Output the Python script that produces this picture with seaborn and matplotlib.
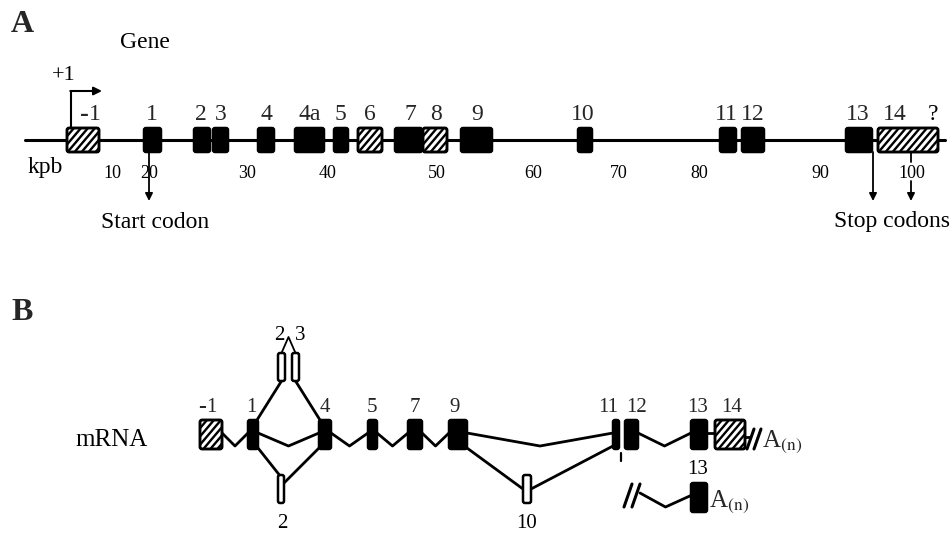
import matplotlib
matplotlib.use("Agg")
import numpy as np
import matplotlib.pyplot as plt
from matplotlib.patches import FancyBboxPatch
import seaborn as sns

sns.set_theme(style="white")
plt.rcParams["font.family"] = ["Liberation Serif", "DejaVu Serif"]
plt.rcParams["mathtext.fontset"] = "stix"

# ------------------------------------------------------------
# Panel A: gene structure (drawing units along the locus)
# ------------------------------------------------------------
gene_exons = ["-1", "1", "2", "3", "4", "4a", "5", "6", "7", "8", "9",
              "10", "11", "12", "13", "14"]
gene_start = [67, 144, 194, 213, 258, 295, 334, 358, 395, 423, 461,
              578, 720, 742, 846, 878]
gene_end = [99, 161, 210, 228, 274, 324, 348, 382, 422, 447, 492,
            592, 736, 764, 872, 938]
gene_kind = ["hatch", "solid", "solid", "solid", "solid", "solid", "solid",
             "hatch", "solid", "hatch", "solid", "solid", "solid", "solid",
             "solid", "hatch"]
gene_label_x = [90, 152, 201, 221, 266, 310, 340, 370, 410, 436, 477,
                583, 726, 753, 858, 895]

kb_labels = ["10", "20", "30", "40", "50", "60", "70", "80", "90", "100"]
kb_x = [112, 149, 247, 328, 437, 533, 619, 699, 820, 912]

# ------------------------------------------------------------
# Panel B: mRNA splice variants
# ------------------------------------------------------------
mrna_exons = ["-1", "1", "4", "5", "7", "9", "11", "12", "13", "14"]
mrna_start = [200, 248, 319, 368, 408, 449, 613, 625, 691, 715]
mrna_end = [222, 258, 331, 377, 422, 467, 619, 638, 707, 745]
mrna_kind = ["hatch", "solid", "solid", "solid", "solid", "solid",
             "solid", "solid", "solid", "hatch"]
mrna_label_x = [207, 251, 325, 372, 415, 455, 608, 637, 698, 732]
mrna_joins = [("-1", "1"), ("1", "4"), ("4", "5"), ("5", "7"),
              ("7", "9"), ("9", "11"), ("12", "13")]

alt_exons = ["2up", "3up", "2low", "10"]
alt_start = [278, 292, 278, 523]
alt_end = [285, 299, 284, 531]
alt_top = [353, 353, 475, 475]

short_exon = "13"
short_start, short_end, short_top = 691, 707, 483

# geometry
A_TOP, A_BOT, A_LINE = 128, 152, 140
B_TOP, B_BOT, B_MID = 420, 449, 433
ALT_H = 28


def exon(ax, x0, x1, y0, y1, kind):
    face = "black" if kind == "solid" else "white"
    p = FancyBboxPatch((x0, y0), x1 - x0, y1 - y0,
                       boxstyle="round,pad=0,rounding_size=2",
                       facecolor=face, edgecolor="black", linewidth=1.8,
                       zorder=3)
    ax.add_patch(p)
    if kind == "hatch":
        # diagonal hatching, clipped to the box
        h = y1 - y0
        run = h * 0.85
        for c in np.arange(x0 - run, x1 + 1, 7.0):
            ln, = ax.plot([c, c + run], [y1, y0], color="black", lw=1.7,
                          zorder=3.5)
            ln.set_clip_path(p)
        ax.add_patch(FancyBboxPatch((x0, y0), x1 - x0, y1 - y0,
                                    boxstyle="round,pad=0,rounding_size=2",
                                    facecolor="none", edgecolor="black",
                                    linewidth=1.8, zorder=4))


def arrow(ax, x, y0, y1):
    ax.annotate("", xy=(x, y1), xytext=(x, y0),
                arrowprops=dict(arrowstyle="-|>", color="black", lw=1.3,
                                mutation_scale=11, shrinkA=0, shrinkB=0))


def label(ax, x, y, name, size):
    if name.startswith("-"):
        ax.text(x - 1, y, "-", fontsize=size + 2, fontweight="bold",
                ha="right", va="center")
        ax.text(x - 1, y, name[1:], fontsize=size, ha="left", va="center")
    else:
        ax.text(x, y, name, fontsize=size, ha="center", va="center")


fig = plt.figure(figsize=(9.53, 5.33), dpi=100)
ax = fig.add_axes([0, 0, 1, 1])
ax.set_xlim(0, 953)
ax.set_ylim(533, 0)
ax.axis("off")

line_kw = dict(color="black", lw=2.0, solid_capstyle="round", zorder=2)
text_kw = dict(ha="center", va="center", color="black")

# ---------------- panel A ----------------
ax.text(11, 25, "A", fontsize=23, fontweight="bold", ha="left", va="center")
ax.text(145, 43, "Gene", fontsize=17, **text_kw)
ax.text(64, 75, "+1", fontsize=16, **text_kw)

ax.plot([25, 945], [A_LINE, A_LINE], color="black", lw=2.2, zorder=2)
for x0, x1, kind in zip(gene_start, gene_end, gene_kind):
    exon(ax, x0, x1, A_TOP, A_BOT, kind)
for name, lx in zip(gene_exons, gene_label_x):
    label(ax, lx, 115, name, 17)
ax.text(933, 115, "?", fontsize=17, **text_kw)

# transcription start
tss_x = gene_start[0] + 4
ax.plot([tss_x, tss_x], [A_TOP, 91], color="black", lw=1.5, zorder=2)
ax.annotate("", xy=(102, 91), xytext=(tss_x - 0.7, 91),
            arrowprops=dict(arrowstyle="-|>", color="black", lw=1.5,
                            mutation_scale=12, shrinkA=0, shrinkB=0))

ax.text(45, 168, "kpb", fontsize=17, **text_kw)
for lab, x in zip(kb_labels, kb_x):
    ax.text(x, 173, lab, fontsize=13, **text_kw)

# start / stop codons
arrow(ax, 149, A_BOT, 201)
ax.text(155, 222, "Start codon", fontsize=17, **text_kw)
arrow(ax, 873, A_BOT, 201)
ax.plot([911, 911], [A_BOT, 162], color="black", lw=1.3)
arrow(ax, 911, 181, 201)
ax.text(892, 222, "Stop codons", fontsize=17, **text_kw)

# ---------------- panel B ----------------
ax.text(11, 313, "B", fontsize=23, fontweight="bold", ha="left", va="center")
ax.text(112, 440, "mRNA", fontsize=18, **text_kw)

pos = {n: (s, e) for n, s, e in zip(mrna_exons, mrna_start, mrna_end)}
for x0, x1, kind in zip(mrna_start, mrna_end, mrna_kind):
    exon(ax, x0, x1, B_TOP, B_BOT, kind)
for name, lx in zip(mrna_exons, mrna_label_x):
    label(ax, lx, 407, name, 15)

# intron connectors (V shapes)
for a, b in mrna_joins:
    xa, xb = pos[a][1], pos[b][0]
    ax.plot([xa, (xa + xb) / 2, xb], [B_MID, B_MID + 13, B_MID], **line_kw)
ax.plot([pos["13"][1], pos["14"][0]], [B_MID, B_MID], **line_kw)

# alternative exons
alt = {}
for n, s, e, t in zip(alt_exons, alt_start, alt_end, alt_top):
    exon(ax, s, e, t, t + ALT_H, "open")
    alt[n] = (s, e, t, t + ALT_H)
ax.text(279, 335, "2", fontsize=15, **text_kw)
ax.text(300, 335, "3", fontsize=15, **text_kw)
ax.text(282, 523, "2", fontsize=15, **text_kw)
ax.text(527, 523, "10", fontsize=15, **text_kw)

c2 = (alt["2up"][0] + alt["2up"][1]) / 2
c3 = (alt["3up"][0] + alt["3up"][1]) / 2
ax.plot([c2, (c2 + c3) / 2, c3], [alt["2up"][2], 337, alt["3up"][2]],
        color="black", lw=1.3)
ax.plot([pos["1"][1] - 1, c2], [B_TOP, alt["2up"][3]], **line_kw)
ax.plot([c3, pos["4"][0] + 1], [alt["3up"][3], B_TOP], **line_kw)

cl = (alt["2low"][0] + alt["2low"][1]) / 2
ax.plot([pos["1"][1], cl], [B_BOT - 1, alt["2low"][2] + 2], **line_kw)
ax.plot([alt["2low"][1], pos["4"][0]], [alt["2low"][2] + 8, B_BOT - 1], **line_kw)

m10 = alt["10"][2] + ALT_H / 2
ax.plot([pos["9"][1], alt["10"][0]], [B_BOT - 1, m10], **line_kw)
ax.plot([alt["10"][1], pos["11"][0]], [m10, B_BOT - 3], **line_kw)
ax.plot([621, 621], [453, 461], color="black", lw=1.6)

# polyA tail of the long transcript
e14 = pos["14"][1]
ax.plot([e14, e14 + 5], [B_MID + 4, B_MID + 4], **line_kw)
for dx in (2, 9):
    ax.plot([e14 + dx, e14 + dx + 7], [B_BOT, B_TOP + 9], color="black", lw=2.2)
ax.text(e14 + 17, 442, r"A$_{\mathrm{(n)}}$", fontsize=18,
        ha="left", va="center")

# short transcript ending at exon 13
for dx in (0, 8):
    ax.plot([624 + dx, 632 + dx], [507, 484], color="black", lw=2.2)
ax.plot([640, (640 + short_start) / 2, short_start + 1],
        [493, 507, 495], **line_kw)
exon(ax, short_start, short_end, short_top, short_top + 29, "solid")
ax.text(698, 470, short_exon, fontsize=15, **text_kw)
ax.text(short_end + 2, 502, r"A$_{\mathrm{(n)}}$", fontsize=18,
        ha="left", va="center")

fig.savefig("out.png", dpi=100)
